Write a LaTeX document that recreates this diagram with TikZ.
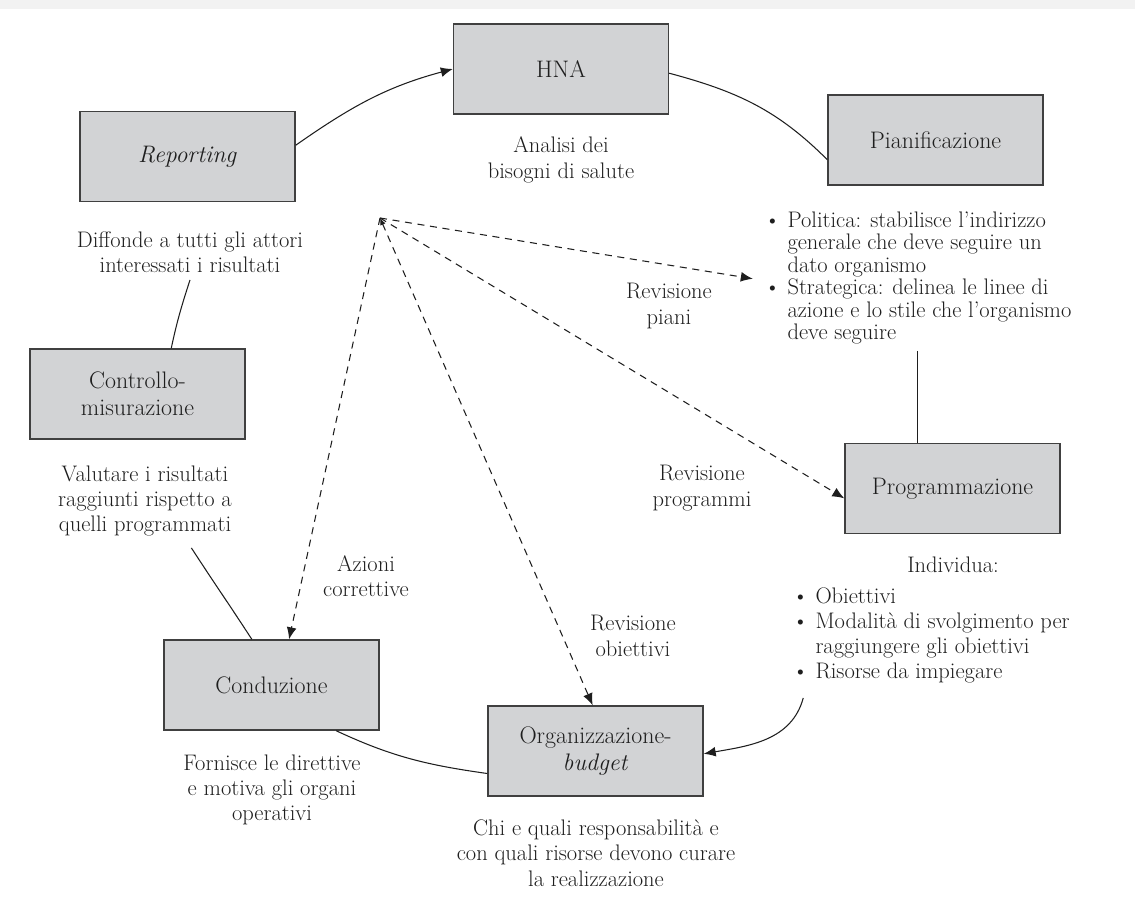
\documentclass[tikz,border=0pt]{standalone}
\usepackage{amsmath}
\usepackage{tikz}
\usetikzlibrary{arrows.meta}
\usepackage{xcolor}
\definecolor{grigiobox}{RGB}{210,211,213}
\definecolor{inchiostro}{RGB}{30,30,30}

\tikzset{
	casella/.style={draw=inchiostro!85, line width=1pt, fill=grigiobox,
		minimum width=5.375cm, minimum height=2.25cm, align=center,
		text=inchiostro, font=\fontsize{17}{19}\selectfont},
	nota/.style={align=center, inner sep=0pt, text=inchiostro,
		font=\fontsize{16}{18}\selectfont},
	linea/.style={draw=inchiostro, line width=0.75pt},
	freccia/.style={linea, -{Latex[length=8.5pt,width=7pt]}},
	tratto/.style={freccia, dash pattern=on 5pt off 4pt},
}

\begin{document}
\begin{tikzpicture}[x=0.025cm,y=0.025cm]
			\useasboundingbox (0,0) rectangle (1135,916);
			\fill[black!5] (0,907) rectangle (1135,916);
			% caselle
			\node[casella] (hna) at (561,847) {HNA};
			\node[casella] (pian) at (935.5,776) {Pianificazione};
			\node[casella] (prog) at (952.5,427.5) {Programmazione};
			\node[casella] (org) at (595.5,165) {Organizzazione-\\\textit{budget}};
			\node[casella] (cond) at (271.5,231) {Conduzione};
			\node[casella] (contr) at (137.5,522) {Controllo-\\misurazione};
			\node[casella] (rep) at (187.5,759.5) {\textit{Reporting}};
			% testi
			\node[nota] (hnaTxt) at (561,756) {Analisi dei\\bisogni di salute};
			\node[nota] (repTxt) at (190,664) {Diffonde a tutti gli attori\\interessati i risultati};
			\node[nota] (contrTxt) at (145,415) {Valutare i risultati\\raggiunti rispetto a\\quelli programmati};
			\node[nota] (condTxt) at (272,126) {Fornisce le direttive\\e motiva gli organi\\operativi};
			\node[nota] (orgTxt) at (596,63) {Chi e quali responsabilità e\\con quali risorse devono curare\\la realizzazione};
			\node[nota] (individua) at (953,351) {Individua:};
			\node[nota, anchor=north west, font=\fontsize{16}{16}\selectfont] (pianTxt) at (764,705) {%
				\begin{tabular}{@{}l@{\hspace{5pt}}l@{}}
					\textbullet & Politica: stabilisce l'indirizzo\\
					& generale che deve seguire un\\
					& dato organismo\\
					\textbullet & Strategica: delinea le linee di\\
					& azione e lo stile che l'organismo\\
					& deve seguire
				\end{tabular}};
			\node[nota, anchor=north west, font=\fontsize{16}{17.8}\selectfont] (progTxt) at (792,330) {%
				\begin{tabular}{@{}l@{\hspace{5pt}}l@{}}
					\textbullet & Obiettivi\\
					\textbullet & Modalità di svolgimento per\\
					& raggiungere gli obiettivi\\
					\textbullet & Risorse da impiegare
				\end{tabular}};
			\node[nota] (revPiani) at (669,610) {Revisione\\piani};
			\node[nota] (revProg) at (702,428) {Revisione\\programmi};
			\node[nota] (revObb) at (633,280) {Revisione\\obiettivi};
			\node[nota] (azioni) at (366,340) {Azioni\\correttive};
			% ciclo
			\draw[freccia] ([yshift=8pt]rep.east) to[out=35,in=195] (hna.west);
			\draw[linea] ([yshift=-3pt]hna.east) to[out=-15,in=135] ([yshift=-14pt]pian.west);
			\draw[linea] ([yshift=-3pt]pianTxt.south) -- (prog.north -| pianTxt.south);
			\draw[freccia] ([xshift=8pt,yshift=-8pt]progTxt.south west) to[out=-105,in=10] ([yshift=-2pt]org.east);
			\draw[linea] ([xshift=-31pt]cond.south east) to[out=-25,in=172] ([yshift=-16pt]org.west);
			\draw[linea] ([xshift=33pt,yshift=-8pt]contrTxt.south) to[out=-57,in=123] ([xshift=-14pt]cond.north);
			\draw[linea] ([yshift=-5pt]repTxt.south) to[out=-108,in=78] ([xshift=24pt]contr.north);
			% revisioni
			\coordinate (centro) at (380,698);
			\draw[tratto] (centro) -- ([xshift=-8pt]pianTxt.west);
			\draw[tratto] (centro) -- ([yshift=-7pt]prog.west);
			\draw[tratto, {Latex[length=5pt,width=4pt]}-{Latex[length=8.5pt,width=7pt]}] (centro) -- ([xshift=-2pt]org.north);
			\draw[tratto] (centro) -- ([xshift=12.5pt]cond.north);
		\end{tikzpicture}
\end{document}
